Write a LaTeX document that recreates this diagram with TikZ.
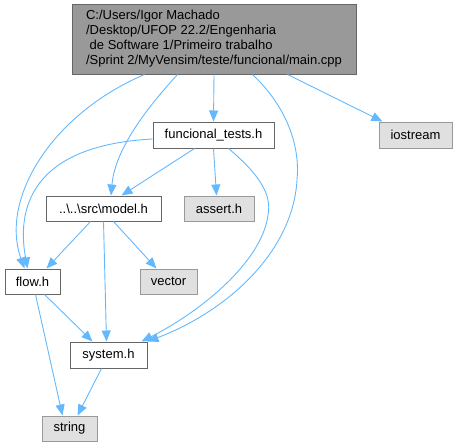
\documentclass[tikz,border=0pt]{standalone}
\usepackage{fontspec}
\setmainfont{Liberation Sans}
\usetikzlibrary{arrows.meta}
\definecolor{edgeblue}{HTML}{63B8FF}
\definecolor{boxgrey}{HTML}{666666}
\definecolor{extgrey}{HTML}{999999}
\definecolor{extfill}{HTML}{E0E0E0}
\definecolor{mainfill}{HTML}{999999}
\begin{document}
\begin{tikzpicture}[x=1pt,y=-1pt,
  every node/.style={font=\fontsize{13}{15}\selectfont, inner sep=0pt},
  filebox/.style={draw=boxgrey, fill=white, line width=1pt},
  extbox/.style={draw=extgrey, fill=extfill, line width=1pt},
  mainbox/.style={draw=boxgrey, fill=mainfill, line width=1pt, align=left},
  dep/.style={draw=edgeblue, line width=0.9pt, -{Triangle[length=11pt,width=9pt]}}
]
\useasboundingbox (0,0) rectangle (457,447);

\node[mainbox, minimum width=284pt, minimum height=70pt] (main) at (214,39)
  {C:/Users/Igor Machado\\/Desktop/UFOP 22.2/Engenharia\\\mbox{}\ de Software 1/Primeiro trabalho\\/Sprint 2/MyVensim/teste/funcional/main.cpp};
\node[filebox, minimum width=121pt, minimum height=26pt] (ft) at (213.5,135) {funcional\_tests.h};
\node[extbox, minimum width=73pt, minimum height=26pt] (io) at (415.5,135) {iostream};
\node[filebox, minimum width=115pt, minimum height=25pt] (model) at (103.5,208.5) {..\textbackslash..\textbackslash src\textbackslash model.h};
\node[extbox, minimum width=70pt, minimum height=25pt] (assert) at (219,208.5) {assert.h};
\node[filebox, minimum width=55pt, minimum height=25pt] (flow) at (32.5,281.5) {flow.h};
\node[extbox, minimum width=57pt, minimum height=25pt] (vector) at (168.5,281.5) {vector};
\node[filebox, minimum width=77pt, minimum height=26pt] (system) at (108.5,355) {system.h};
\node[extbox, minimum width=55pt, minimum height=25pt] (string) at (69.5,428.5) {string};

% main.cpp
\draw[dep] (main.south) -- (ft.north);
\draw[dep] ([xshift=216pt]main.south west) -- ([xshift=4pt]io.north west);
\draw[dep] ([xshift=106pt]main.south west) .. controls (145,110) and (115,150) .. ([xshift=7.5pt]model.north);
\draw[dep] ([xshift=73pt]main.south west) .. controls (50,115) and (0,200) .. ([xshift=20pt]flow.north west);
\draw[dep] ([xshift=181pt]main.south west) .. controls (290,110) and (300,150) .. (297,180)
  .. controls (293,250) and (230,310) .. (system.north east);

% funcional_tests.h
\draw[dep] ([yshift=-4pt]ft.west) .. controls (40,145) and (15,200) .. ([xshift=23pt]flow.north west);
\draw[dep] ([xshift=42pt]ft.south west) -- ([xshift=76pt]model.north west);
\draw[dep] (ft.south) -- ([xshift=33pt]assert.north west);
\draw[dep] ([xshift=76pt]ft.south west) .. controls (260,175) and (272,195) .. (268,215)
  .. controls (262,262) and (200,312) .. ([xshift=-6pt]system.north east);

% model.h
\draw[dep] ([xshift=45pt]model.south west) -- ([xshift=42pt]flow.north west);
\draw[dep] ([xshift=58pt]model.south west) -- ([xshift=37pt]system.north west);
\draw[dep] ([xshift=68pt]model.south west) -- ([xshift=17pt]vector.north west);

% flow.h
\draw[dep] ([xshift=40pt]flow.south west) -- ([xshift=23pt]system.north west);
\draw[dep] ([xshift=31pt]flow.south west) -- ([xshift=21pt]string.north west);

% system.h
\draw[dep] ([xshift=32pt]system.south west) -- ([xshift=36pt]string.north west);
\end{tikzpicture}
\end{document}
